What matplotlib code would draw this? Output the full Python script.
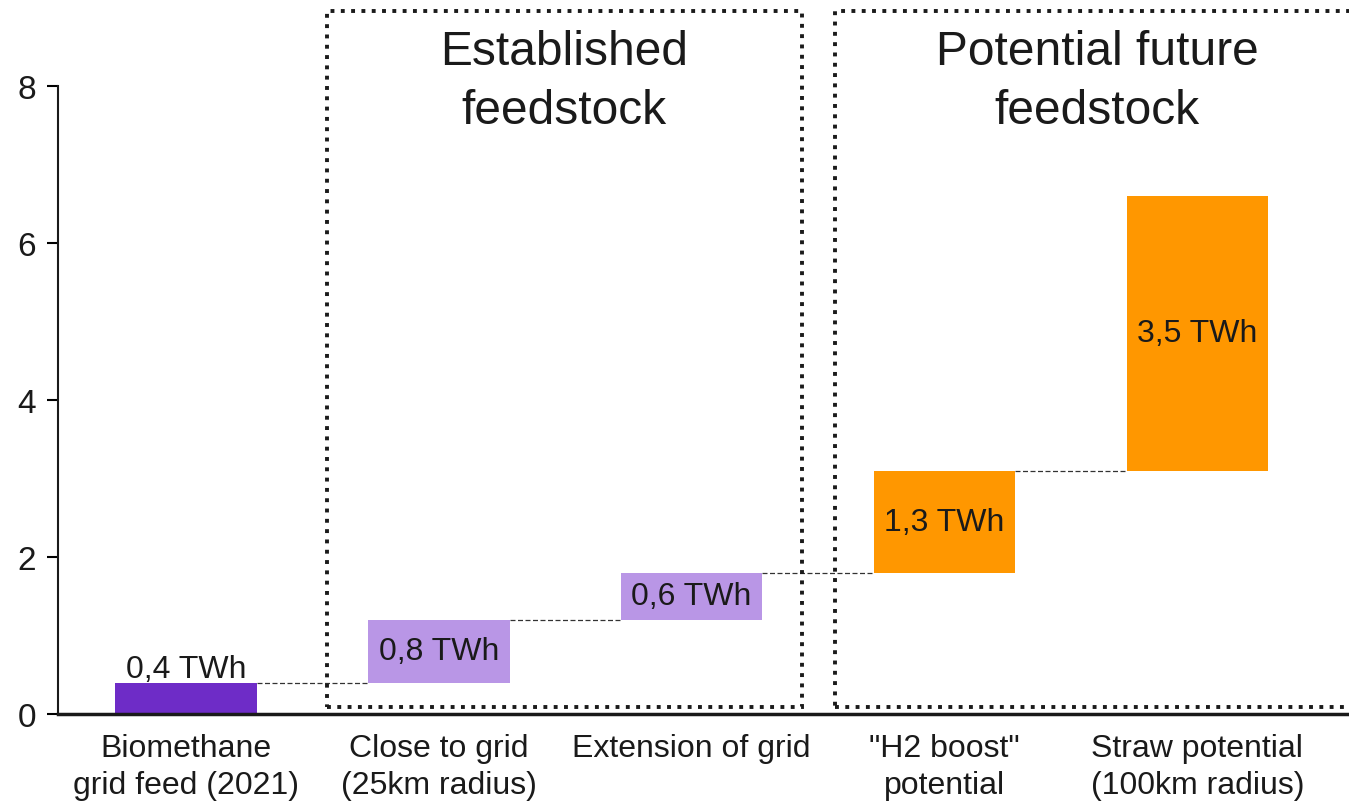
import numpy as np
import matplotlib.pyplot as plt
from matplotlib.patches import Rectangle

plt.rcParams['font.family'] = ['Liberation Sans', 'DejaVu Sans']

categories = ['Biomethane\ngrid feed (2021)', 'Close to grid\n(25km radius)',
              'Extension of grid', '"H2 boost"\npotential',
              'Straw potential\n(100km radius)']
values = [0.4, 0.8, 0.6, 1.3, 3.5]
labels = ['0,4 TWh', '0,8 TWh', '0,6 TWh', '1,3 TWh', '3,5 TWh']
colors = ['#6E2CC7', '#B996E6', '#B996E6', '#FF9700', '#FF9700']
groups = ['Established\nfeedstock', 'Potential future\nfeedstock']

bottoms = np.concatenate([[0], np.cumsum(values)[:-1]])
tops = bottoms + np.array(values)
x = np.arange(len(values))
w = 0.56

fig = plt.figure(figsize=(13.49, 8.03), dpi=100)
ax = fig.add_axes([0.043, 0.1096, 0.957, 0.7821])

ax.bar(x, values, w, bottom=bottoms, color=colors, zorder=2)

# connectors between steps
for i in range(len(values) - 1):
    ax.plot([x[i] + w / 2, x[i + 1] - w / 2], [tops[i], tops[i]],
            ls=(0, (4, 2)), lw=0.9, color='#333333', zorder=1)

# value labels
for i in range(len(values)):
    if i == 0:
        ax.text(x[i], tops[i] - 0.02, labels[i], ha='center', va='bottom',
                fontsize=23, color='#1a1a1a')
    else:
        ax.text(x[i], bottoms[i] + values[i] / 2, labels[i], ha='center',
                va='center', fontsize=23, color='#1a1a1a')

# dotted group boxes
boxes = [(0.558, 2.438), (2.568, 4.75)]
for (x0, x1), g in zip(boxes, groups):
    r = Rectangle((x0, 0.09), x1 - x0, 8.865, fill=False, ls=':', lw=2.8,
                  edgecolor='#1a1a1a', clip_on=False, zorder=3)
    ax.add_patch(r)
ax.text(1.496, 8.06, groups[0], ha='center', va='center', fontsize=34.5,
        color='#1a1a1a', linespacing=1.4, clip_on=False)
ax.text(3.605, 8.06, groups[1], ha='center', va='center', fontsize=34.5,
        color='#1a1a1a', linespacing=1.4, clip_on=False)

ax.set_xlim(-0.506, 4.6)
ax.set_ylim(0, 8)
ax.set_yticks([0, 2, 4, 6, 8])
ax.set_xticks(x)
ax.set_xticklabels(categories, fontsize=23, color='#1a1a1a', linespacing=1.28)
ax.tick_params(axis='x', length=0, pad=14)
ax.tick_params(axis='y', length=8, width=1.5, labelsize=24,
               labelcolor='#1a1a1a', pad=8)
for s in ['top', 'right']:
    ax.spines[s].set_visible(False)
ax.spines['left'].set_linewidth(1.5)
ax.spines['bottom'].set_linewidth(2.5)
ax.spines['left'].set_color('#1a1a1a')
ax.spines['bottom'].set_color('#1a1a1a')

fig.savefig('out.png', dpi=100)
